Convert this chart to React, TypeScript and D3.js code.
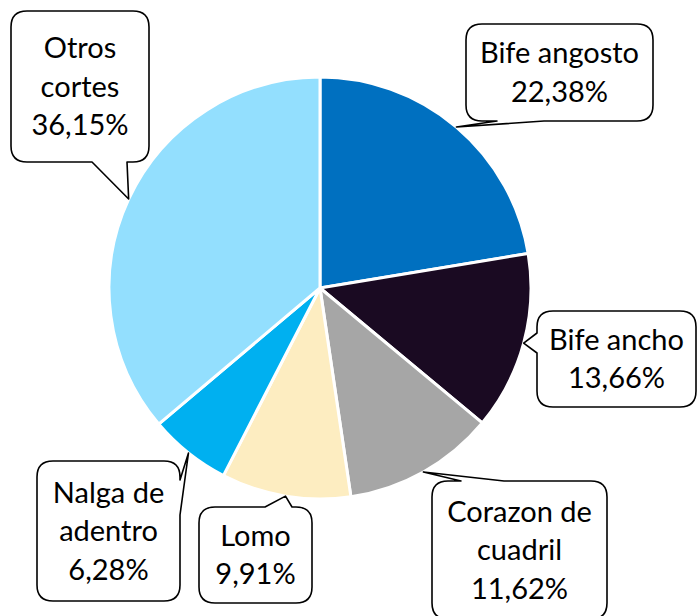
import React from "react";
import * as d3 from "d3";

const categories = ["Bife angosto", "Bife ancho", "Corazon de cuadril", "Lomo", "Nalga de adentro", "Otros cortes"];
const values = [22.38, 13.66, 11.62, 9.91, 6.28, 36.15];
const labelLines = [
  ["Bife angosto", "22,38%"],
  ["Bife ancho", "13,66%"],
  ["Corazon de", "cuadril", "11,62%"],
  ["Lomo", "9,91%"],
  ["Nalga de", "adentro", "6,28%"],
  ["Otros", "cortes", "36,15%"],
];
const colors = ["#0070C0", "#1A0A22", "#A6A6A6", "#FDEDC1", "#00B0F0", "#93DFFE"];

// callout boxes: x, y, w, h, side of tail, base start, base end
const boxes: [number, number, number, number, string, number, number][] = [
  [466, 24, 187, 97, "bottom", 497, 544],
  [537, 311, 159, 96, "left", 333, 353],
  [432, 481, 175, 138, "top", 461, 504],
  [199, 507, 113, 96, "top", 265, 292],
  [37, 461, 143, 140, "right", 480, 515],
  [11, 11, 138, 151, "bottom", 92, 127],
];

const W = 698, H = 616;
const cx = 320, cy = 288, R = 211;
const LH = 38.5;

function calloutPath(x: number, y: number, w: number, h: number, r: number, side: string, b1: number, b2: number, tx: number, ty: number) {
  const p: string[] = [];
  p.push(`M${x + r},${y}`);
  if (side === "top") p.push(`L${b1},${y}L${tx},${ty}L${b2},${y}`);
  p.push(`L${x + w - r},${y}Q${x + w},${y} ${x + w},${y + r}`);
  if (side === "right") p.push(`L${x + w},${b1}L${tx},${ty}L${x + w},${b2}`);
  p.push(`L${x + w},${y + h - r}Q${x + w},${y + h} ${x + w - r},${y + h}`);
  if (side === "bottom") p.push(`L${b2},${y + h}L${tx},${ty}L${b1},${y + h}`);
  p.push(`L${x + r},${y + h}Q${x},${y + h} ${x},${y + h - r}`);
  if (side === "left") p.push(`L${x},${b2}L${tx},${ty}L${x},${b1}`);
  p.push(`L${x},${y + r}Q${x},${y} ${x + r},${y}Z`);
  return p.join("");
}

export default function App() {
  const pie = d3.pie<number>().sort(null).value((d) => d)(values);
  const arc = d3.arc<d3.PieArcDatum<number>>().innerRadius(0).outerRadius(R);
  return (
    <svg width={W} height={H} style={{ position: "absolute", left: 0, top: 0 }} fontFamily="Lato, sans-serif">
      <rect width={W} height={H} fill="#fff" />
      <g transform={`translate(${cx},${cy})`}>
        {pie.map((d, i) => (
          <path key={i} d={arc(d) || ""} fill={colors[i]} stroke="#fff" strokeWidth={3} strokeLinejoin="round" />
        ))}
      </g>
      {pie.map((d, i) => {
        const a = (d.startAngle + d.endAngle) / 2;
        const tx = cx + R * Math.sin(a);
        const ty = cy - R * Math.cos(a);
        const [x, y, w, h, side, b1, b2] = boxes[i];
        const lines = labelLines[i];
        const mx = x + w / 2;
        const my = y + h / 2;
        const first = my - ((lines.length - 1) / 2) * LH + 10;
        return (
          <g key={"c" + i}>
            <path d={calloutPath(x, y, w, h, 16, side, b1, b2, tx, ty)} fill="#fff" stroke="#000" strokeWidth={1.6} strokeLinejoin="round" />
            {lines.map((t, j) => (
              <text key={j} x={mx} y={first + j * LH} textAnchor="middle" fontSize={29} fill="#000">
                {t}
              </text>
            ))}
          </g>
        );
      })}
    </svg>
  );
}
